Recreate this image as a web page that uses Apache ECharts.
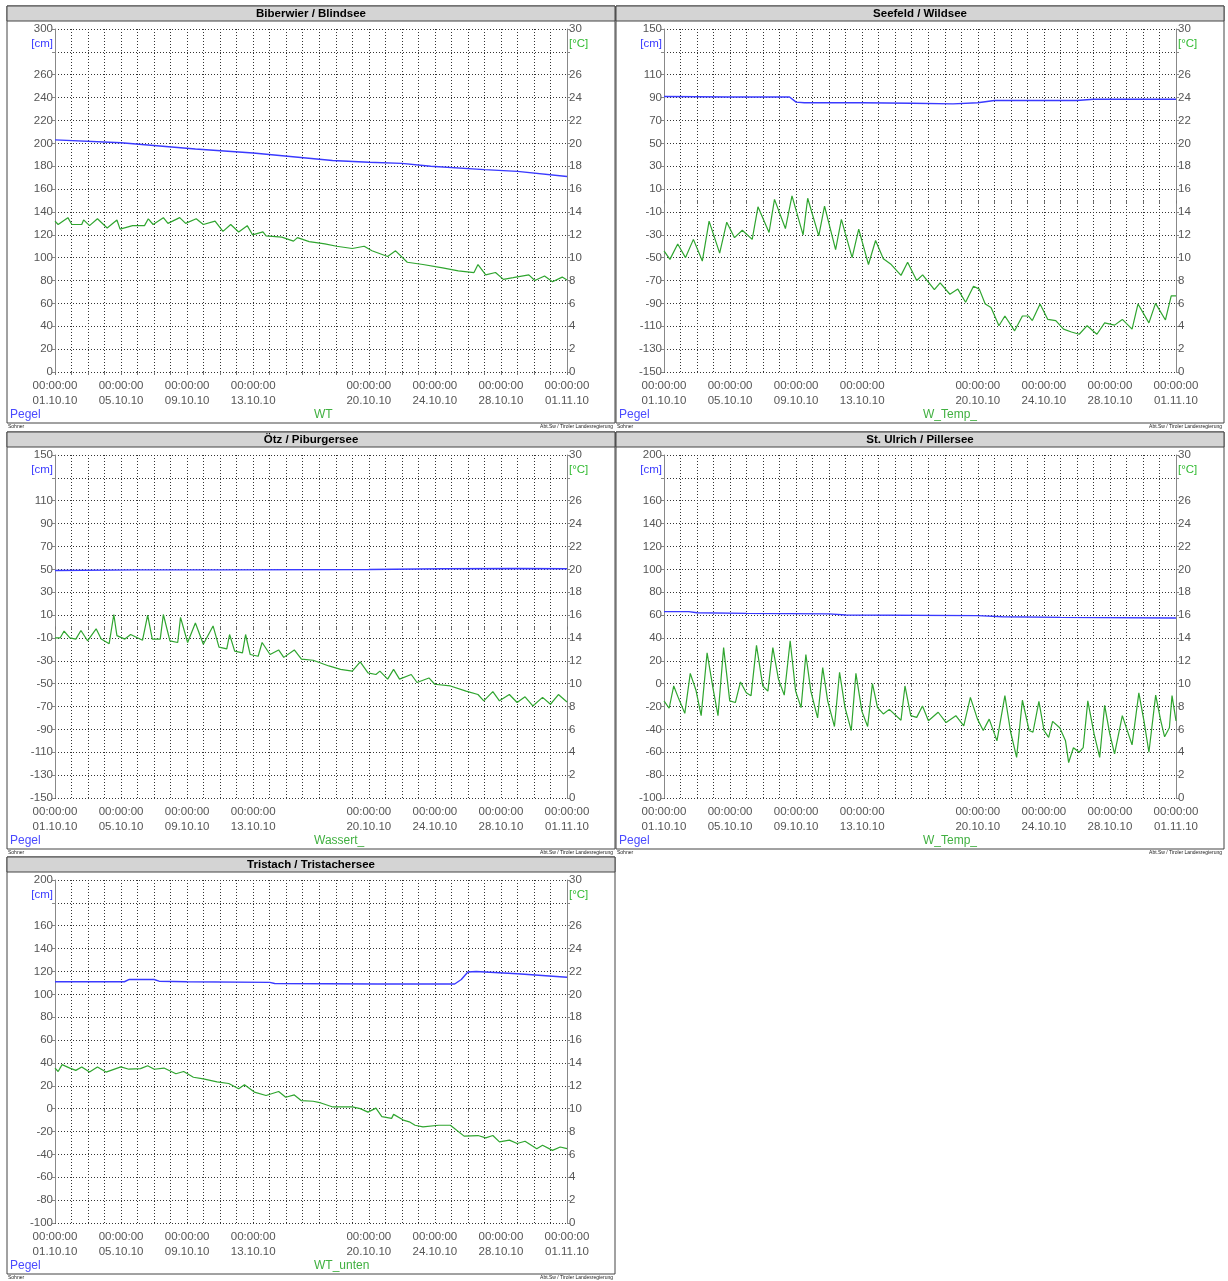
<!DOCTYPE html>
<html>
<head>
<meta charset="utf-8">
<title>Pegel / Wassertemperatur Oktober 2010</title>
<script src="https://cdn.jsdelivr.net/npm/echarts@6/dist/echarts.min.js"></script>
<style>
  html, body { margin: 0; padding: 0; background: #fff; }
  #chart { width: 1228px; height: 1281px; }
</style>
</head>
<body>
<div id="chart"></div>
<script>
// x-Achse: Tage ab 01.10.10 00:00
const dayTicks = [0, 4, 8, 12, 19, 23, 27, 31]
const dayLabels = ['01.10.10', '05.10.10', '09.10.10', '13.10.10', '20.10.10', '24.10.10', '28.10.10', '01.11.10']

const titles = ['Biberwier / Blindsee', 'Seefeld / Wildsee', 'Ötz / Piburgersee', 'St. Ulrich / Pillersee', 'Tristach / Tristachersee']
const tempNames = ['WT', 'W_Temp_', 'Wassert_', 'W_Temp_', 'WT_unten']
const pegelMin = [0, -150, -150, -100, -100]
const pegelMax = [300, 150, 150, 200, 200]
const tempMin = 0
const tempMax = 30

// Pegel [cm], [Tag, Wert]
const blindseePegel = [[0, 203], [4, 200.5], [8.5, 195], [12, 191.5], [16.8, 185], [19, 183.5], [21, 182.5], [22.75, 180], [26, 177], [28, 175.5], [31, 171]]
const wildseePegel = [[0, 91], [4, 90.5], [7.6, 90.5], [8, 86], [8.5, 85.5], [12, 85.5], [15, 85], [17.5, 84.5], [19, 85.5], [20, 87.5], [25, 87.5], [26, 88.5], [31, 88.5]]
const piburgerPegel = [[0, 49], [5, 49.5], [10, 49.5], [19, 49.8], [23.5, 50.5], [28, 50.7], [31, 50.5]]
const pillerPegel = [[0, 63], [1.5, 63], [2, 62], [5, 61.5], [10, 61], [11, 60], [19, 59.5], [20.5, 58.5], [24, 58], [31, 57.5]]
const tristachPegel = [[0, 111], [4.2, 111], [4.5, 113], [6, 113], [6.3, 111.5], [8, 111], [13, 110.5], [13.3, 109.5], [19.5, 109], [24.2, 109], [24.6, 113], [25, 119.5], [25.5, 120], [28, 118], [31, 115]]

// Wassertemperatur [°C], [Tag, Wert]
const blindseeWT = [[0, 13.2], [0.19, 12.9], [0.78, 13.5], [1.02, 12.9], [1.62, 12.9], [1.73, 13.3], [2.09, 12.8], [2.57, 13.4], [3.16, 12.6], [3.75, 13.3], [3.94, 12.5], [4.7, 12.8], [5.42, 12.8], [5.65, 13.4], [5.94, 12.9], [6.56, 13.5], [6.84, 13.0], [7.55, 13.5], [7.91, 13.0], [8.55, 13.4], [8.98, 12.9], [9.69, 13.2], [10.17, 12.3], [10.64, 12.9], [11.12, 12.25], [11.64, 12.8], [11.96, 12.0], [12.59, 12.25], [12.78, 11.9], [13.73, 11.8], [14.44, 11.45], [14.68, 11.75], [15.39, 11.4], [16.34, 11.2], [17.05, 11.0], [18.0, 10.8], [18.72, 11.0], [19.19, 10.6], [20.14, 10.1], [20.62, 10.6], [21.33, 9.6], [22.28, 9.4], [23.47, 9.1], [24.42, 8.85], [25.37, 8.7], [25.61, 9.4], [26.08, 8.5], [26.67, 8.7], [27.15, 8.1], [27.74, 8.25], [28.69, 8.5], [29.05, 8.0], [29.64, 8.4], [30.12, 7.9], [30.71, 8.3], [31, 8.05]]
const wildseeWT = [[0, 10.6], [0.36, 9.85], [0.83, 11.2], [1.3, 10.0], [1.78, 11.6], [2.32, 9.7], [2.73, 13.2], [3.37, 10.4], [3.8, 13.1], [4.27, 11.75], [4.74, 12.4], [5.34, 11.6], [5.69, 14.45], [6.36, 12.2], [6.69, 15.1], [7.35, 12.55], [7.75, 15.4], [8.42, 12.0], [8.7, 15.2], [9.37, 11.9], [9.72, 14.5], [10.39, 10.7], [10.74, 13.35], [11.39, 10.0], [11.79, 12.5], [12.38, 9.4], [12.81, 11.5], [13.28, 9.9], [13.76, 9.4], [14.35, 8.45], [14.75, 9.6], [15.3, 8.0], [15.66, 8.5], [16.37, 7.2], [16.72, 7.8], [17.31, 6.8], [17.79, 7.25], [18.26, 6.1], [18.74, 7.5], [19.09, 7.25], [19.45, 5.95], [19.8, 5.65], [20.28, 4.05], [20.64, 4.9], [21.23, 3.6], [21.7, 4.9], [22.06, 4.9], [22.3, 4.5], [22.77, 5.95], [23.24, 4.6], [23.72, 4.5], [24.19, 3.75], [24.67, 3.5], [25.14, 3.3], [25.62, 4.05], [26.21, 3.3], [26.68, 4.3], [27.28, 4.1], [27.75, 4.6], [28.34, 3.75], [28.7, 5.95], [29.36, 4.3], [29.76, 6.0], [30.36, 4.55], [30.71, 6.65], [31, 6.65]]
const piburgerWT = [[0, 14.0], [0.31, 14.0], [0.55, 14.6], [0.9, 14.0], [1.26, 13.9], [1.57, 14.65], [1.97, 13.75], [2.49, 14.8], [2.8, 13.9], [3.28, 13.5], [3.56, 16.05], [3.75, 14.2], [4.23, 13.9], [4.58, 14.3], [5.3, 13.8], [5.61, 16.0], [5.89, 13.9], [6.37, 13.9], [6.56, 16.05], [6.96, 13.75], [7.43, 13.6], [7.6, 15.8], [8.03, 13.6], [8.5, 15.3], [8.98, 13.45], [9.57, 15.05], [9.93, 13.2], [10.4, 13.05], [10.57, 14.3], [10.88, 12.85], [11.35, 12.7], [11.54, 14.3], [11.82, 12.55], [12.3, 12.4], [12.54, 13.6], [13.02, 12.55], [13.54, 12.95], [13.85, 12.3], [14.49, 12.95], [14.92, 12.15], [15.63, 12.05], [16.58, 11.55], [17.29, 11.25], [18.0, 11.1], [18.48, 11.9], [18.95, 10.95], [19.43, 10.8], [19.67, 11.1], [20.14, 10.4], [20.5, 11.25], [20.86, 10.4], [21.57, 10.8], [21.92, 10.1], [22.64, 10.5], [22.99, 9.95], [23.94, 9.8], [24.89, 9.35], [25.61, 9.05], [25.96, 8.5], [26.51, 9.3], [26.91, 8.5], [27.51, 9.05], [27.98, 8.35], [28.46, 8.85], [28.93, 8.05], [29.52, 8.8], [30.0, 8.2], [30.48, 9.05], [31, 8.4]]
const pillerWT = [[0, 8.5], [0.31, 7.85], [0.59, 9.8], [0.9, 8.65], [1.26, 7.4], [1.59, 10.9], [1.94, 9.4], [2.25, 7.2], [2.61, 12.7], [2.96, 9.65], [3.27, 7.2], [3.61, 13.15], [3.98, 8.5], [4.32, 8.35], [4.63, 10.15], [4.98, 9.2], [5.27, 8.95], [5.6, 13.35], [5.98, 9.8], [6.29, 9.35], [6.59, 13.15], [6.93, 10.4], [7.28, 9.0], [7.64, 13.75], [7.97, 9.35], [8.3, 7.9], [8.59, 12.55], [8.89, 9.35], [9.3, 7.0], [9.61, 11.4], [9.91, 8.5], [10.32, 6.25], [10.63, 11.0], [10.96, 7.9], [11.34, 5.9], [11.62, 10.9], [11.98, 7.6], [12.33, 6.25], [12.62, 10.0], [12.93, 7.9], [13.28, 7.35], [13.64, 7.75], [14.35, 6.8], [14.59, 9.8], [14.94, 7.2], [15.3, 7.05], [15.65, 8.05], [16.01, 6.75], [16.6, 7.5], [17.08, 6.6], [17.67, 7.2], [18.15, 6.3], [18.55, 8.8], [18.98, 6.9], [19.33, 5.9], [19.69, 6.9], [20.16, 5.0], [20.64, 8.95], [20.99, 5.75], [21.35, 3.55], [21.7, 8.55], [22.11, 5.9], [22.34, 5.75], [22.7, 8.45], [23.01, 5.9], [23.29, 5.3], [23.53, 6.7], [23.96, 6.15], [24.31, 5.0], [24.5, 3.1], [24.79, 4.4], [25.14, 4.0], [25.38, 4.4], [25.66, 8.5], [26.04, 5.6], [26.38, 3.55], [26.68, 8.1], [26.99, 5.6], [27.28, 3.85], [27.75, 7.2], [28.34, 4.65], [28.75, 9.2], [29.06, 6.75], [29.36, 4.0], [29.77, 9.0], [30.08, 6.75], [30.31, 5.35], [30.6, 6.15], [30.76, 8.95], [31, 6.75]]
const tristachWT = [[0, 13.55], [0.19, 13.25], [0.43, 13.85], [0.9, 13.55], [1.26, 13.35], [1.62, 13.65], [2.09, 13.2], [2.57, 13.65], [3.09, 13.2], [3.99, 13.65], [4.47, 13.45], [5.18, 13.5], [5.61, 13.75], [6.01, 13.45], [6.6, 13.55], [7.32, 13.05], [7.79, 13.25], [8.38, 12.75], [8.98, 12.6], [9.81, 12.35], [10.52, 12.2], [11.12, 11.75], [11.47, 12.1], [12.07, 11.45], [12.78, 11.15], [13.54, 11.5], [13.97, 11.0], [14.49, 11.2], [14.92, 10.7], [15.63, 10.65], [16.1, 10.5], [16.82, 10.15], [17.53, 10.15], [18.0, 10.15], [18.48, 10.0], [18.95, 9.7], [19.43, 10.05], [19.79, 9.3], [20.38, 9.15], [20.5, 9.5], [21.09, 9.0], [21.45, 8.85], [21.8, 8.55], [22.28, 8.4], [23.23, 8.55], [23.94, 8.55], [24.77, 7.6], [25.61, 7.65], [26.08, 7.45], [26.51, 7.65], [26.91, 7.1], [27.51, 7.25], [27.98, 6.95], [28.46, 7.15], [29.17, 6.5], [29.52, 6.8], [30.12, 6.35], [30.59, 6.65], [31, 6.5]]

const pegelData = [blindseePegel, wildseePegel, piburgerPegel, pillerPegel, tristachPegel]
const tempData = [blindseeWT, wildseeWT, piburgerWT, pillerWT, tristachWT]

const BLUE = '#3a3aff'
const GREEN = '#2fa52f'
const GRID_LINE = { color: '#333', type: [1, 2], width: 1 }
const FONT = '"Liberation Sans", Arial, sans-serif'

const panelW = 608
const panelH = 417
const panelLeft = [7, 616]
const panelTop = [6, 432, 857]

const grids = []
const xAxes = []
const yAxes = []
const series = []
const graphics = []

titles.forEach((title, i) => {
  const left = panelLeft[i % 2]
  const top = panelTop[Math.floor(i / 2)]

  grids.push({ left: left + 48, top: top + 23, width: 512, height: 343 })

  xAxes.push({
    gridIndex: i,
    type: 'value',
    min: 0,
    max: 31,
    interval: 1,
    axisLine: { show: false },
    axisTick: { show: true, length: 3, lineStyle: { color: '#777' } },
    axisLabel: {
      margin: 6,
      color: '#555',
      fontSize: 11.5,
      lineHeight: 15,
      showMinLabel: true,
      showMaxLabel: true,
      hideOverlap: false,
      formatter: v => {
        const k = dayTicks.indexOf(v)
        return k < 0 ? '' : '00:00:00\n' + dayLabels[k]
      }
    },
    splitLine: { show: true, lineStyle: GRID_LINE }
  })

  const cmTick = pegelMax[i] - 20
  yAxes.push({
    gridIndex: i,
    type: 'value',
    position: 'left',
    min: pegelMin[i],
    max: pegelMax[i],
    interval: 20,
    axisLine: { show: true, lineStyle: { color: '#888' } },
    axisTick: { show: true, length: 3, lineStyle: { color: '#888' } },
    axisLabel: {
      margin: 2,
      color: '#555',
      fontSize: 11.5,
      formatter: v => (v === cmTick ? '{u|[cm]}' : String(v)),
      rich: { u: { color: BLUE, fontSize: 11.5, padding: [0, 0, 16, 0] } }
    },
    splitLine: { show: true, lineStyle: GRID_LINE }
  })

  yAxes.push({
    gridIndex: i,
    type: 'value',
    position: 'right',
    min: tempMin,
    max: tempMax,
    interval: 2,
    axisLine: { show: true, lineStyle: { color: '#888' } },
    axisTick: { show: true, length: 3, lineStyle: { color: '#888' } },
    axisLabel: {
      margin: 2,
      color: '#555',
      fontSize: 11.5,
      formatter: v => (v === tempMax - 2 ? '{u|[°C]}' : String(v)),
      rich: { u: { color: '#33bb33', fontSize: 11.5, padding: [0, 0, 16, 0] } }
    },
    splitLine: { show: false }
  })

  series.push({
    name: tempNames[i],
    type: 'line',
    xAxisIndex: i,
    yAxisIndex: 2 * i + 1,
    data: tempData[i],
    showSymbol: false,
    silent: true,
    lineStyle: { color: GREEN, width: 1.2 }
  })
  series.push({
    name: 'Pegel',
    type: 'line',
    xAxisIndex: i,
    yAxisIndex: 2 * i,
    data: pegelData[i],
    showSymbol: false,
    silent: true,
    lineStyle: { color: BLUE, width: 1.4 }
  })

  // Rahmen, Titelleiste, Legende, Fußzeile
  graphics.push(
    { type: 'rect', shape: { x: left, y: top, width: panelW, height: panelH }, style: { fill: 'none', stroke: '#444', lineWidth: 1 } },
    { type: 'rect', shape: { x: left, y: top, width: panelW, height: 15 }, style: { fill: '#d4d4d4', stroke: '#444', lineWidth: 1 } },
    { type: 'text', x: left + panelW / 2, y: top + 8, style: { text: title, font: 'bold 11.5px ' + FONT, fill: '#000', textAlign: 'center', verticalAlign: 'middle', textVerticalAlign: 'middle' } },
    { type: 'text', x: left + 3, y: top + 409, style: { text: 'Pegel', font: '12px ' + FONT, fill: '#4a4aff', textAlign: 'left', verticalAlign: 'middle', textVerticalAlign: 'middle' } },
    { type: 'text', x: left + 307, y: top + 409, style: { text: tempNames[i], font: '12px ' + FONT, fill: '#40b040', textAlign: 'left', verticalAlign: 'middle', textVerticalAlign: 'middle' } },
    { type: 'text', x: left + 1, y: top + 421, style: { text: 'Sohner', font: '5px ' + FONT, fill: '#222', textAlign: 'left', verticalAlign: 'middle', textVerticalAlign: 'middle' } },
    { type: 'text', x: left + panelW - 2, y: top + 421, style: { text: 'Abt.Sw / Tiroler Landesregierung', font: '5px ' + FONT, fill: '#222', textAlign: 'right', verticalAlign: 'middle', textVerticalAlign: 'middle' } }
  )
})

const chart = echarts.init(document.getElementById('chart'), null, { renderer: 'canvas' })
chart.setOption({
  backgroundColor: '#fff',
  animation: false,
  textStyle: { fontFamily: FONT },
  grid: grids,
  xAxis: xAxes,
  yAxis: yAxes,
  series: series,
  graphic: { elements: graphics }
})
</script>
</body>
</html>
